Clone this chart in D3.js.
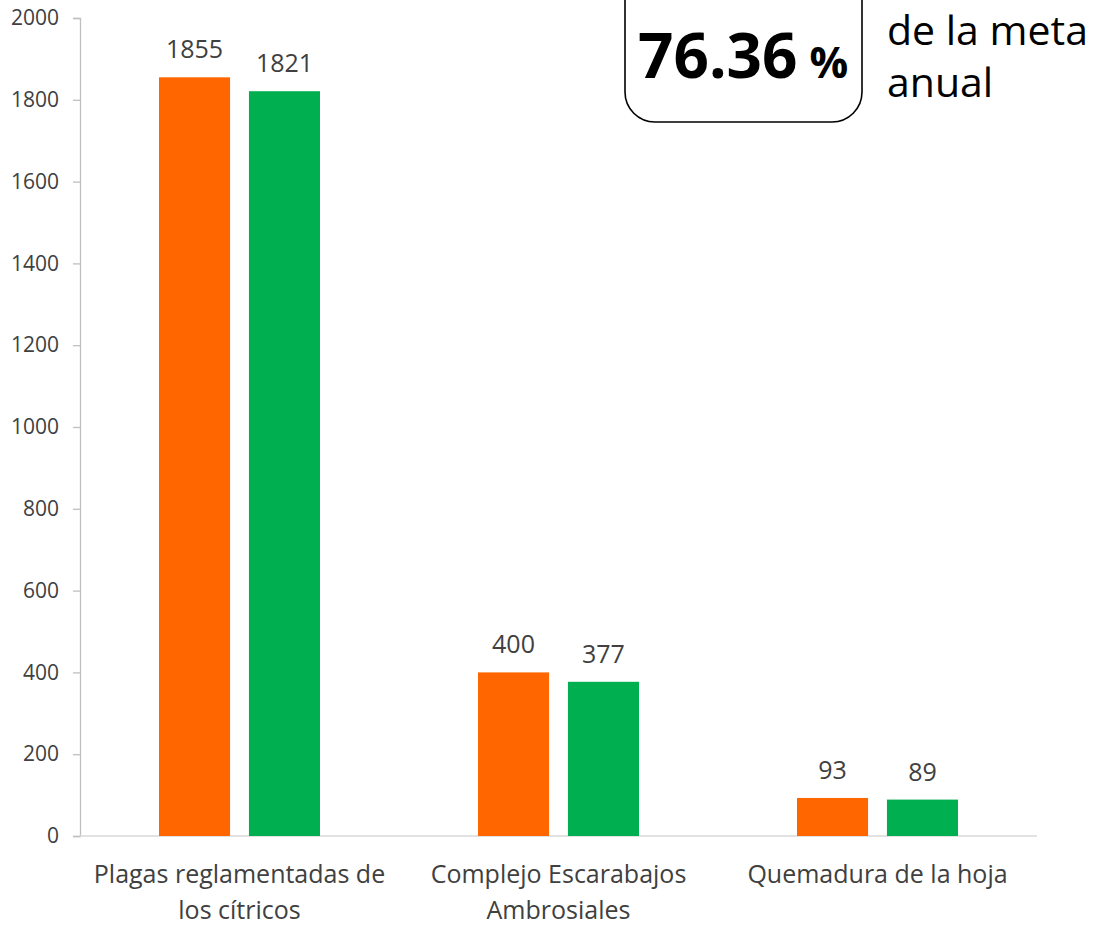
<!DOCTYPE html>
<html>
<head>
<meta charset="utf-8">
<script src="https://cdn.jsdelivr.net/npm/d3@7"></script>
<style>
  body { margin: 0; background: #fff; }
  svg text { font-family: "Open Sans", sans-serif; }
</style>
</head>
<body>
<div id="chart"></div>
<script>
// chart data
var categories = [["Plagas reglamentadas de", "los cítricos"], ["Complejo Escarabajos", "Ambrosiales"], ["Quemadura de la hoja"]];
var serieA = [1855, 400, 93];   // naranja
var serieB = [1821, 377, 89];   // verde
var yTicks = [0, 200, 400, 600, 800, 1000, 1200, 1400, 1600, 1800, 2000];
var percentLabel = "76.36";
var noteLines = ["de la meta", "anual"];

var width = 1096, height = 925;
var margin = {top: 18, right: 59, bottom: 89, left: 80};

var svg = d3.select("#chart")
  .append("svg")
  .attr("width", width)
  .attr("height", height);

var x = d3.scaleBand()
  .domain(d3.range(categories.length))
  .range([margin.left, width - margin.right]);

var inner = d3.scaleBand()
  .domain(["a", "b"])
  .range([79, x.bandwidth() - 79])
  .paddingInner(0.21);

var y = d3.scaleLinear()
  .domain([0, 2000])
  .range([height - margin.bottom, margin.top]);

// y axis
var yAxis = svg.append("g")
  .attr("transform", "translate(" + margin.left + ",0)")
  .call(d3.axisLeft(y).tickValues(yTicks).tickFormat(d3.format("d")).tickSize(7).tickPadding(14));
yAxis.select(".domain").attr("stroke", "#bfbfbf").attr("stroke-width", 1.3);
yAxis.selectAll(".tick line").attr("stroke", "#bfbfbf").attr("stroke-width", 1.3);
yAxis.selectAll(".tick text")
  .attr("fill", "#404040")
  .style("font-size", "21px");

// x axis line
svg.append("line")
  .attr("x1", margin.left)
  .attr("x2", width - margin.right)
  .attr("y1", y(0))
  .attr("y2", y(0))
  .attr("stroke", "#d9d9d9")
  .attr("stroke-width", 1.5);

var rows = categories.map(function(c, i) {
  return {i: i, a: serieA[i], b: serieB[i]};
});

var groups = svg.selectAll(".grp")
  .data(rows)
  .enter().append("g")
  .attr("class", "grp")
  .attr("transform", function(d) { return "translate(" + x(d.i) + ",0)"; });

var bars = [{key: "a", color: "#ff6600"}, {key: "b", color: "#00b050"}];

bars.forEach(function(s) {
  groups.append("rect")
    .attr("x", inner(s.key))
    .attr("width", inner.bandwidth())
    .attr("y", function(d) { return y(d[s.key]); })
    .attr("height", function(d) { return y(0) - y(d[s.key]); })
    .attr("fill", s.color);

  groups.append("text")
    .attr("x", inner(s.key) + inner.bandwidth() / 2)
    .attr("y", function(d) { return y(d[s.key]) - 19; })
    .attr("text-anchor", "middle")
    .attr("fill", "#404040")
    .style("font-size", "25px")
    .text(function(d) { return d[s.key]; });
});

// category labels
groups.each(function(d) {
  var t = d3.select(this).append("text")
    .attr("text-anchor", "middle")
    .attr("fill", "#404040")
    .style("font-size", "25px");
  categories[d.i].forEach(function(line, k) {
    t.append("tspan")
      .attr("x", x.bandwidth() / 2)
      .attr("y", 883 + k * 36)
      .text(line);
  });
});

// rounded box with the percentage
svg.append("rect")
  .attr("x", 625)
  .attr("y", -40)
  .attr("width", 237)
  .attr("height", 162)
  .attr("rx", 30)
  .attr("fill", "#fff")
  .attr("stroke", "#000")
  .attr("stroke-width", 1.6);

var pct = svg.append("text")
  .attr("x", 638)
  .attr("y", 78)
  .attr("fill", "#000")
  .style("font-weight", "bold");
pct.append("tspan").style("font-size", "62px").text(percentLabel);
pct.append("tspan").style("font-size", "43px").attr("dx", 12).text("%");

noteLines.forEach(function(line, k) {
  svg.append("text")
    .attr("x", 887)
    .attr("y", 45 + k * 52)
    .attr("fill", "#000")
    .style("font-size", "41px")
    .text(line);
});
</script>
</body>
</html>
